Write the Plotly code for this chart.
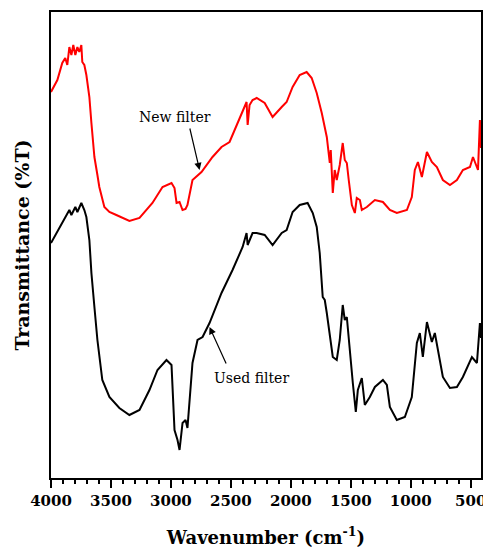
import plotly.graph_objects as go

# New filter (red) - wavenumber (cm-1) and transmittance (a.u.)
new_wn = [4000, 3947, 3906, 3881, 3864, 3847, 3830, 3814, 3797, 3780, 3764, 3747, 3739, 3722, 3705,
          3680, 3663, 3638, 3613, 3597, 3555, 3513, 3455, 3346, 3262, 3154, 3070, 2995, 2970, 2953,
          2928, 2903, 2878, 2862, 2820, 2745, 2653, 2578, 2511, 2402, 2369, 2360, 2344, 2319, 2285,
          2218, 2152, 2076, 2035, 1985, 1926, 1868, 1826, 1784, 1742, 1700, 1675, 1667, 1650, 1634,
          1617, 1592, 1567, 1550, 1533, 1517, 1508, 1491, 1466, 1450, 1424, 1408, 1366, 1299, 1232,
          1174, 1116, 1032, 991, 966, 940, 907, 865, 824, 782, 732, 673, 615, 565, 506, 481, 439, 423, 414]
new_t = [386, 398, 415, 420, 413, 431, 423, 433, 423, 431, 426, 433, 416, 413, 403,
         381, 355, 321, 303, 291, 271, 266, 263, 257, 260, 275, 291, 295, 290, 275,
         276, 268, 269, 273, 298, 306, 321, 331, 336, 368, 376, 353, 373, 378, 380,
         375, 361, 371, 376, 391, 403, 406, 400, 385, 365, 341, 315, 328, 285, 308,
         298, 313, 335, 318, 315, 298, 288, 273, 265, 280, 278, 268, 271, 278, 276,
         268, 265, 268, 281, 308, 316, 301, 326, 316, 311, 298, 293, 298, 308, 311, 321, 308, 358, 330]

# Used filter (black)
used_wn = [4000, 3947, 3906, 3864, 3847, 3830, 3797, 3780, 3747, 3722, 3705, 3680, 3663, 3638, 3613,
           3572, 3513, 3430, 3346, 3262, 3179, 3112, 3037, 2995, 2987, 2970, 2945, 2928, 2903, 2878,
           2862, 2820, 2778, 2736, 2678, 2578, 2486, 2402, 2369, 2360, 2319, 2285, 2218, 2152, 2076,
           2035, 1985, 1926, 1860, 1817, 1784, 1759, 1734, 1717, 1700, 1675, 1650, 1617, 1592, 1567,
           1550, 1533, 1508, 1483, 1458, 1441, 1408, 1383, 1341, 1299, 1232, 1199, 1174, 1116, 1049,
           991, 949, 924, 899, 865, 824, 799, 732, 673, 615, 565, 490, 448, 423, 414]
used_t = [235, 246, 255, 263, 268, 263, 271, 266, 275, 268, 261, 238, 205, 171, 138,
          98, 81, 70, 63, 68, 88, 108, 118, 113, 88, 48, 38, 28, 55, 58,
          50, 115, 138, 141, 155, 185, 208, 231, 245, 233, 245, 245, 243, 233, 245,
          248, 266, 273, 275, 265, 251, 225, 181, 178, 165, 145, 121, 118, 138, 173,
          158, 161, 125, 95, 66, 88, 100, 73, 81, 91, 98, 93, 71, 58, 61,
          81, 135, 145, 121, 156, 136, 145, 101, 90, 91, 101, 121, 115, 155, 140]

x_ticks = [4000, 3500, 3000, 2500, 2000, 1500, 1000, 500]

FONT = "DejaVu Serif"

fig = go.Figure()
fig.add_trace(go.Scatter(x=new_wn, y=new_t, mode="lines", line=dict(color="#ff0000", width=2),
                         showlegend=False))
fig.add_trace(go.Scatter(x=used_wn, y=used_t, mode="lines", line=dict(color="#000000", width=2),
                         showlegend=False))

# labels
fig.add_annotation(x=2964, y=361, text="New filter", showarrow=False,
                   font=dict(family=FONT, size=14, color="black"))
fig.add_annotation(x=2761, y=308, ax=2845, ay=351, axref="x", ayref="y", text="",
                   showarrow=True, arrowhead=2, arrowsize=1.2, arrowwidth=1.2, arrowcolor="black")
fig.add_annotation(x=2325, y=100, text="Used filter", showarrow=False,
                   font=dict(family=FONT, size=14, color="black"))
fig.add_annotation(x=2678, y=151, ax=2534, ay=113, axref="x", ayref="y", text="",
                   showarrow=True, arrowhead=2, arrowsize=1.2, arrowwidth=1.2, arrowcolor="black")

fig.update_layout(
    width=483, height=548,
    margin=dict(l=51, r=2, t=12, b=70),
    paper_bgcolor="white", plot_bgcolor="white",
    font=dict(family=FONT, color="black"),
    xaxis=dict(
        range=[4000, 414], tickvals=x_ticks, ticktext=[str(v) for v in x_ticks],
        ticks="outside", ticklen=8, tickwidth=1.5, tickcolor="black",
        ticklabeloverflow="allow",
        minor=dict(dtick=100, tick0=0, ticks="outside", ticklen=4, tickwidth=1.5, tickcolor="black"),
        showline=True, linewidth=2, linecolor="black", mirror=True,
        showgrid=False, zeroline=False,
        tickfont=dict(family=FONT, size=15, color="black", weight="bold"),
        title=dict(text="<b>Wavenumber (cm<sup>-1</sup>)</b>", standoff=24,
                   font=dict(family=FONT, size=18, color="black")),
        automargin=False,
    ),
    yaxis=dict(
        range=[0, 466], showticklabels=False, ticks="",
        showline=True, linewidth=2, linecolor="black", mirror=True,
        showgrid=False, zeroline=False,
        title=dict(text="<b>Transmittance (%T)</b>", standoff=14,
                   font=dict(family=FONT, size=19, color="black")),
        automargin=False,
    ),
)

fig.write_html("out.html")
